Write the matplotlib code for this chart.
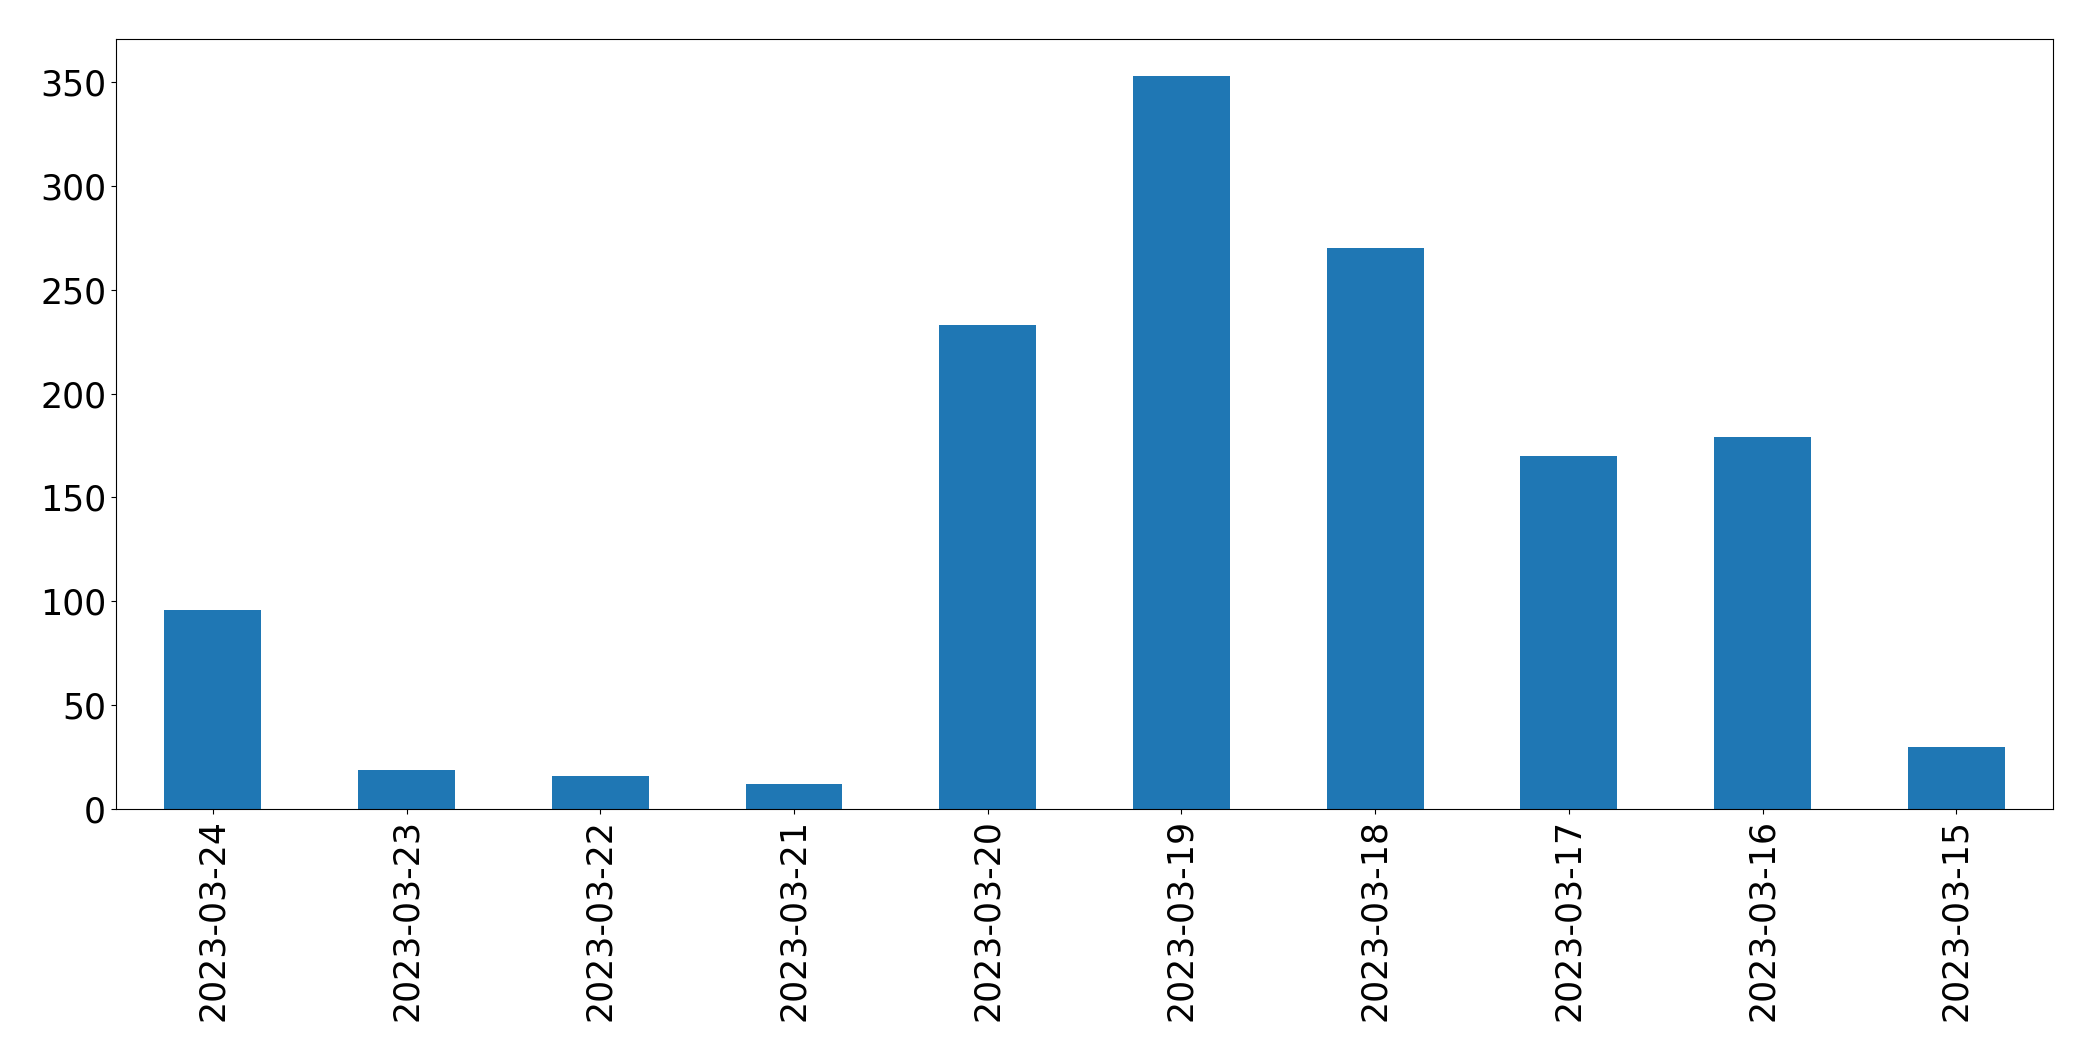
from matplotlib import pyplot as plt
import pandas as pd

dates = ["2023-03-24", "2023-03-23", "2023-03-22", "2023-03-21", "2023-03-20",
         "2023-03-19", "2023-03-18", "2023-03-17", "2023-03-16", "2023-03-15"]
counts = [96, 19, 16, 12, 233, 353, 270, 170, 179, 30]

series = pd.Series(counts, index=dates)

fig = plt.figure(figsize=(20.93, 10.61), dpi=100)
ax = fig.add_axes([0.0554, 0.2375, 0.9256, 0.7255])
series.plot(kind='bar', ax=ax, color='#1f77b4', fontsize=25)

plt.savefig("out.png", dpi=100)
